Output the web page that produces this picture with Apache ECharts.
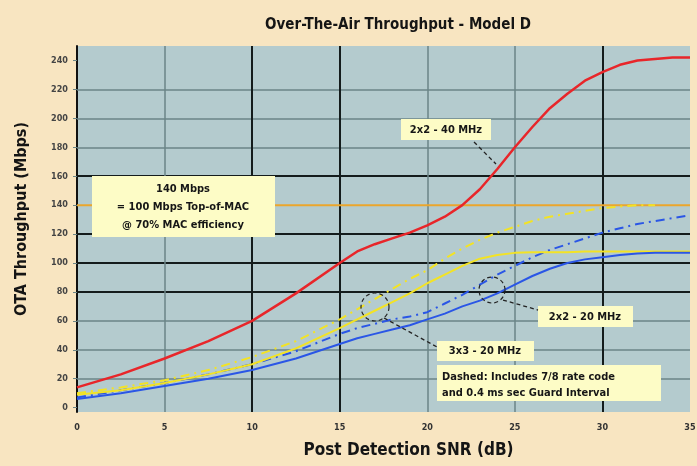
<!DOCTYPE html>
<html>
<head>
<meta charset="utf-8">
<script src="https://cdn.jsdelivr.net/npm/echarts@6/dist/echarts.min.js"></script>
<style>
  html, body { margin: 0; padding: 0; background: #f8e5c1; }
  #chart { width: 697px; height: 466px; }
</style>
</head>
<body>
<div id="chart"></div>
<script>
// SNR values (dB)
var snr = [0, 2.5, 5, 7.5, 10, 12.5, 15, 16, 17, 18, 19, 20, 21, 22, 23, 24, 25, 26, 27, 28, 29, 30, 31, 32, 33, 34, 35];

// 2x2 - 40 MHz (red)
var red40 = [14, 23, 34, 46, 60, 79, 100, 108, 113, 117, 121, 126, 132, 140, 151, 165, 180, 194, 207, 217, 226, 232, 237, 240, 241, 242, 242];
// 3x3 - 20 MHz (yellow)
var yellowSolid = [9, 12, 17, 23, 30, 41, 55, 61, 67, 73, 79, 86, 92, 98, 103, 105.5, 107, 107.5, 107.5, 107.5, 108, 108, 108, 108, 108, 108, 108];
var yellowDash = [10, 14, 19, 26, 35, 46, 61, 68, 75, 82, 89, 95, 103, 110, 116, 121, 125, 129, 132, 134, 136, 138, 139, 140, 140, null, null];
// 2x2 - 20 MHz (blue)
var blueSolid = [6, 10, 15, 20, 26, 34, 44, 48, 51, 54, 57, 61, 65, 70, 74, 79, 85, 91, 96, 100, 102.5, 104, 105.5, 106.5, 107, 107, 107];
var blueDash = [7, 12, 17, 23, 30, 39, 51, 55, 58, 61, 63, 66, 72, 78, 85, 92, 98, 104, 109, 113, 117, 121, 124, 127, 129, 131, 133];

var macLevel = 140;
var yTicks = [0, 20, 40, 60, 80, 100, 120, 140, 160, 180, 200, 220, 240];
var yGrid = [20, 40, 60, 80, 100, 120, 160, 180, 200, 220];
var yGridDark = [80, 100, 120, 160];
var xGrid = [5, 10, 15, 20, 25, 30];
var xGridDark = [10, 15, 30];

function pairs(vals) {
  return snr.map(function (x, i) { return [x, vals[i]]; });
}

var darkLine = { color: '#141c1c', width: 2, type: 'solid' };
var lightLine = { color: '#6b8587', width: 1.5, type: 'solid' };

var gridMarks = [];
yGrid.forEach(function (v) {
  gridMarks.push({ yAxis: v, lineStyle: yGridDark.indexOf(v) >= 0 ? darkLine : lightLine });
});
xGrid.forEach(function (v) {
  gridMarks.push({ xAxis: v, lineStyle: xGridDark.indexOf(v) >= 0 ? darkLine : lightLine });
});

var font = "'DejaVu Sans Condensed', 'Liberation Sans Narrow', sans-serif";
var boxFill = '#fdfcc6';
var txt = { fill: '#161616', fontFamily: font, fontWeight: 'bold', fontSize: 11 };

function box(x, y, w, h) {
  return { type: 'rect', shape: { x: x, y: y, width: w, height: h }, style: { fill: boxFill }, z: 100 };
}
function label(x, y, text, align) {
  return { type: 'text', x: x, y: y, z: 101,
    style: Object.assign({ text: text, align: align || 'center', verticalAlign: 'middle' }, txt) };
}
function leader(pts) {
  return { type: 'polyline', shape: { points: pts }, z: 101,
    style: { stroke: '#222', lineWidth: 1.3, lineDash: [4, 3], fill: null } };
}
function ring(cx, cy, r) {
  return { type: 'circle', shape: { cx: cx, cy: cy, r: r }, z: 101,
    style: { stroke: '#222', lineWidth: 1.2, lineDash: [4, 3], fill: null } };
}

var chart = echarts.init(document.getElementById('chart'));
chart.setOption({
  backgroundColor: '#f8e5c1',
  animation: false,
  title: {
    text: 'Over-The-Air Throughput - Model D',
    left: 393, top: 13, textAlign: 'center',
    textStyle: { fontFamily: font, fontWeight: 'bold', fontSize: 15, color: '#151515' }
  },
  grid: { left: 77, right: 7, top: 46, bottom: 54, outerBoundsMode: 'none', containLabel: false,
    show: true, backgroundColor: '#b4cbce', borderWidth: 0 },
  xAxis: {
    type: 'value', min: 0, max: 35, interval: 5,
    name: 'Post Detection SNR (dB)', nameLocation: 'middle', nameGap: 30,
    nameTextStyle: { fontFamily: font, fontWeight: 'bold', fontSize: 17, color: '#151515', padding: [0, 0, 0, 50] },
    axisLine: { show: false },
    axisTick: { show: false },
    splitLine: { show: false },
    axisLabel: { color: '#333', fontSize: 9, fontWeight: 'bold', margin: 11, fontFamily: font }
  },
  yAxis: {
    type: 'value', min: -3, max: 250,
    name: 'OTA Throughput (Mbps)', nameLocation: 'middle', nameGap: 47,
    nameTextStyle: { fontFamily: font, fontWeight: 'bold', fontSize: 16, color: '#151515', padding: [0, 0, 0, 20] },
    axisLine: { show: true, lineStyle: { color: '#111', width: 2 } },
    axisTick: { show: true, length: 4, customValues: yTicks, lineStyle: { color: '#6b8587' } },
    splitLine: { show: false },
    axisLabel: { customValues: yTicks, color: '#444', fontSize: 9, fontWeight: 'bold', margin: 9, fontFamily: font }
  },
  series: [
    {
      name: 'MAC', type: 'line', z: 2, symbol: 'none',
      data: [[0, macLevel], [35, macLevel]],
      lineStyle: { color: '#eba62c', width: 2 },
      markLine: { silent: true, symbol: 'none', label: { show: false }, z: 1, data: gridMarks }
    },
    { name: '3x3 - 20 MHz dashed', type: 'line', z: 3, symbol: 'none', data: pairs(yellowDash),
      lineStyle: { color: '#f3e324', width: 2, type: [9, 5, 2, 5] } },
    { name: '2x2 - 20 MHz dashed', type: 'line', z: 3, symbol: 'none', data: pairs(blueDash),
      lineStyle: { color: '#2a56e6', width: 2, type: [9, 5, 2, 5] } },
    { name: '3x3 - 20 MHz', type: 'line', z: 4, symbol: 'none', data: pairs(yellowSolid),
      lineStyle: { color: '#f3e324', width: 2 } },
    { name: '2x2 - 20 MHz', type: 'line', z: 4, symbol: 'none', data: pairs(blueSolid),
      lineStyle: { color: '#2a56e6', width: 2 } },
    { name: '2x2 - 40 MHz', type: 'line', z: 5, symbol: 'none', data: pairs(red40),
      lineStyle: { color: '#e8262a', width: 2.5 } }
  ],
  graphic: [
    box(92, 176, 183, 61),
    label(183, 189, '140 Mbps'),
    label(183, 207, '= 100 Mbps Top-of-MAC'),
    label(183, 225, '@ 70% MAC efficiency'),
    box(401, 119, 90, 21),
    label(446, 130, '2x2 - 40 MHz'),
    leader([[474, 142], [496, 164]]),
    ring(375, 307, 14),
    leader([[384, 318], [437, 347]]),
    box(437, 341, 97, 20),
    label(485, 351, '3x3 - 20 MHz'),
    ring(492, 290, 13),
    leader([[503, 300], [538, 310]]),
    box(538, 306, 95, 21),
    label(585, 317, '2x2 - 20 MHz'),
    box(437, 365, 224, 36),
    label(442, 377, 'Dashed: Includes 7/8 rate code', 'left'),
    label(442, 393, 'and 0.4 ms sec Guard Interval', 'left')
  ]
});
</script>
</body>
</html>
